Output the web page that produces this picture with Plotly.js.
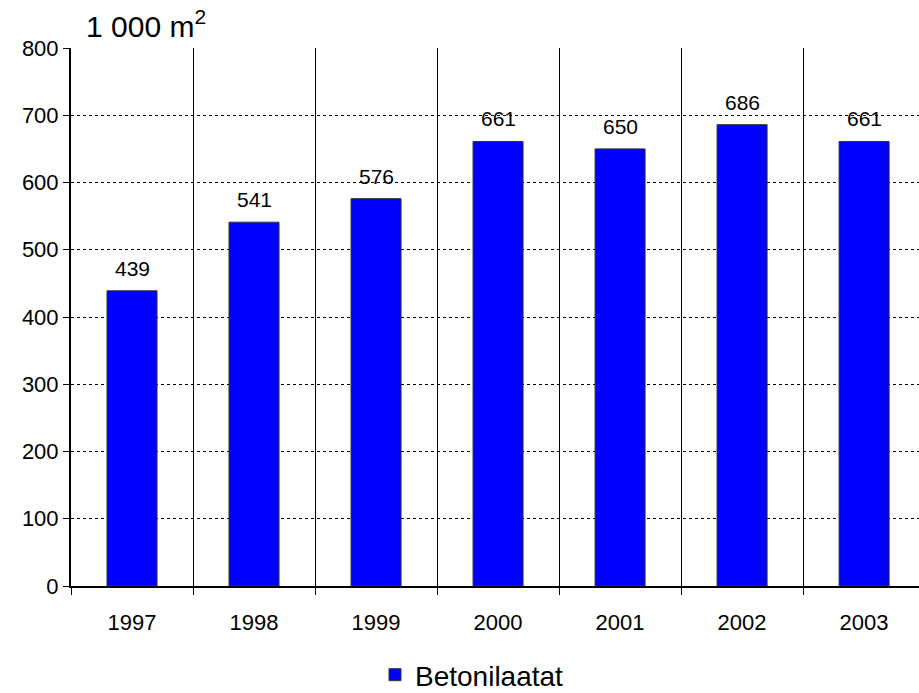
<!DOCTYPE html>
<html>
<head>
<meta charset="utf-8">
<script src="https://cdn.plot.ly/plotly-3.0.1.min.js"></script>
<style>html,body{margin:0;padding:0;background:#fff;}#chart{width:919px;height:693px;}</style>
</head>
<body>
<div id="chart"></div>
<script>
var years = ["1997", "1998", "1999", "2000", "2001", "2002", "2003"];
var values = [439, 541, 576, 661, 650, 686, 661];
var seriesName = "Betonilaatat";
var yTicks = [0, 100, 200, 300, 400, 500, 600, 700, 800];

var idx = years.map(function (_, i) { return i; });
var boundaries = [];
for (var i = 0; i <= years.length; i++) boundaries.push(i - 0.5);

var font = "Liberation Sans, Arial, sans-serif";

var trace = {
  type: "bar",
  x: idx,
  y: values,
  name: seriesName,
  width: 0.41,
  marker: { color: "#0000ff", line: { color: "#333333", width: 1 } },
  hoverinfo: "skip"
};

var labels = idx.map(function (i) {
  return {
    x: idx[i], y: values[i], xref: "x", yref: "y",
    text: String(values[i]),
    showarrow: false,
    yanchor: "bottom",
    yshift: 9,
    font: { family: font, size: 21, color: "#000" }
  };
});

var layout = {
  width: 919,
  height: 693,
  margin: { l: 71, r: 0, t: 48, b: 107 },
  paper_bgcolor: "#fff",
  plot_bgcolor: "#fff",
  showlegend: true,
  font: { family: font, color: "#000" },
  title: {
    text: "1 000 m<sup>2</sup>",
    font: { family: font, size: 30, color: "#000" },
    xref: "container", yref: "container",
    x: 86 / 919, xanchor: "left",
    y: 1 - 26 / 693, yanchor: "middle"
  },
  annotations: labels,
  xaxis: {
    range: [-0.5, 6.45],
    tickmode: "array",
    tickvals: idx,
    ticktext: years,
    ticks: "",
    showgrid: false,
    zeroline: false,
    showline: true,
    linecolor: "#000",
    linewidth: 2,
    tickfont: { family: font, size: 22, color: "#000" },
    ticklabelstandoff: 16,
    minor: {
      tickmode: "array",
      tickvals: boundaries,
      ticks: "outside",
      ticklen: 7,
      tickwidth: 1,
      tickcolor: "#000",
      showgrid: true,
      gridcolor: "#000",
      gridwidth: 1
    },
    fixedrange: true
  },
  yaxis: {
    range: [0, 800],
    tickmode: "array",
    tickvals: yTicks,
    ticks: "outside",
    ticklen: 6,
    tickcolor: "#000",
    showline: true,
    linecolor: "#000",
    linewidth: 2,
    showgrid: true,
    gridcolor: "#000",
    gridwidth: 1,
    griddash: "dot",
    zeroline: false,
    tickfont: { family: font, size: 22, color: "#000" },
    fixedrange: true
  },
  legend: {
    orientation: "h",
    xref: "container", yref: "container",
    x: 472 / 919, xanchor: "center",
    y: 1 - 675 / 693, yanchor: "middle",
    font: { family: font, size: 28, color: "#000" },
    itemwidth: 30
  },
  bargap: 0.59
};

Plotly.newPlot("chart", [trace], layout, { displayModeBar: false, staticPlot: true });
</script>
</body>
</html>
